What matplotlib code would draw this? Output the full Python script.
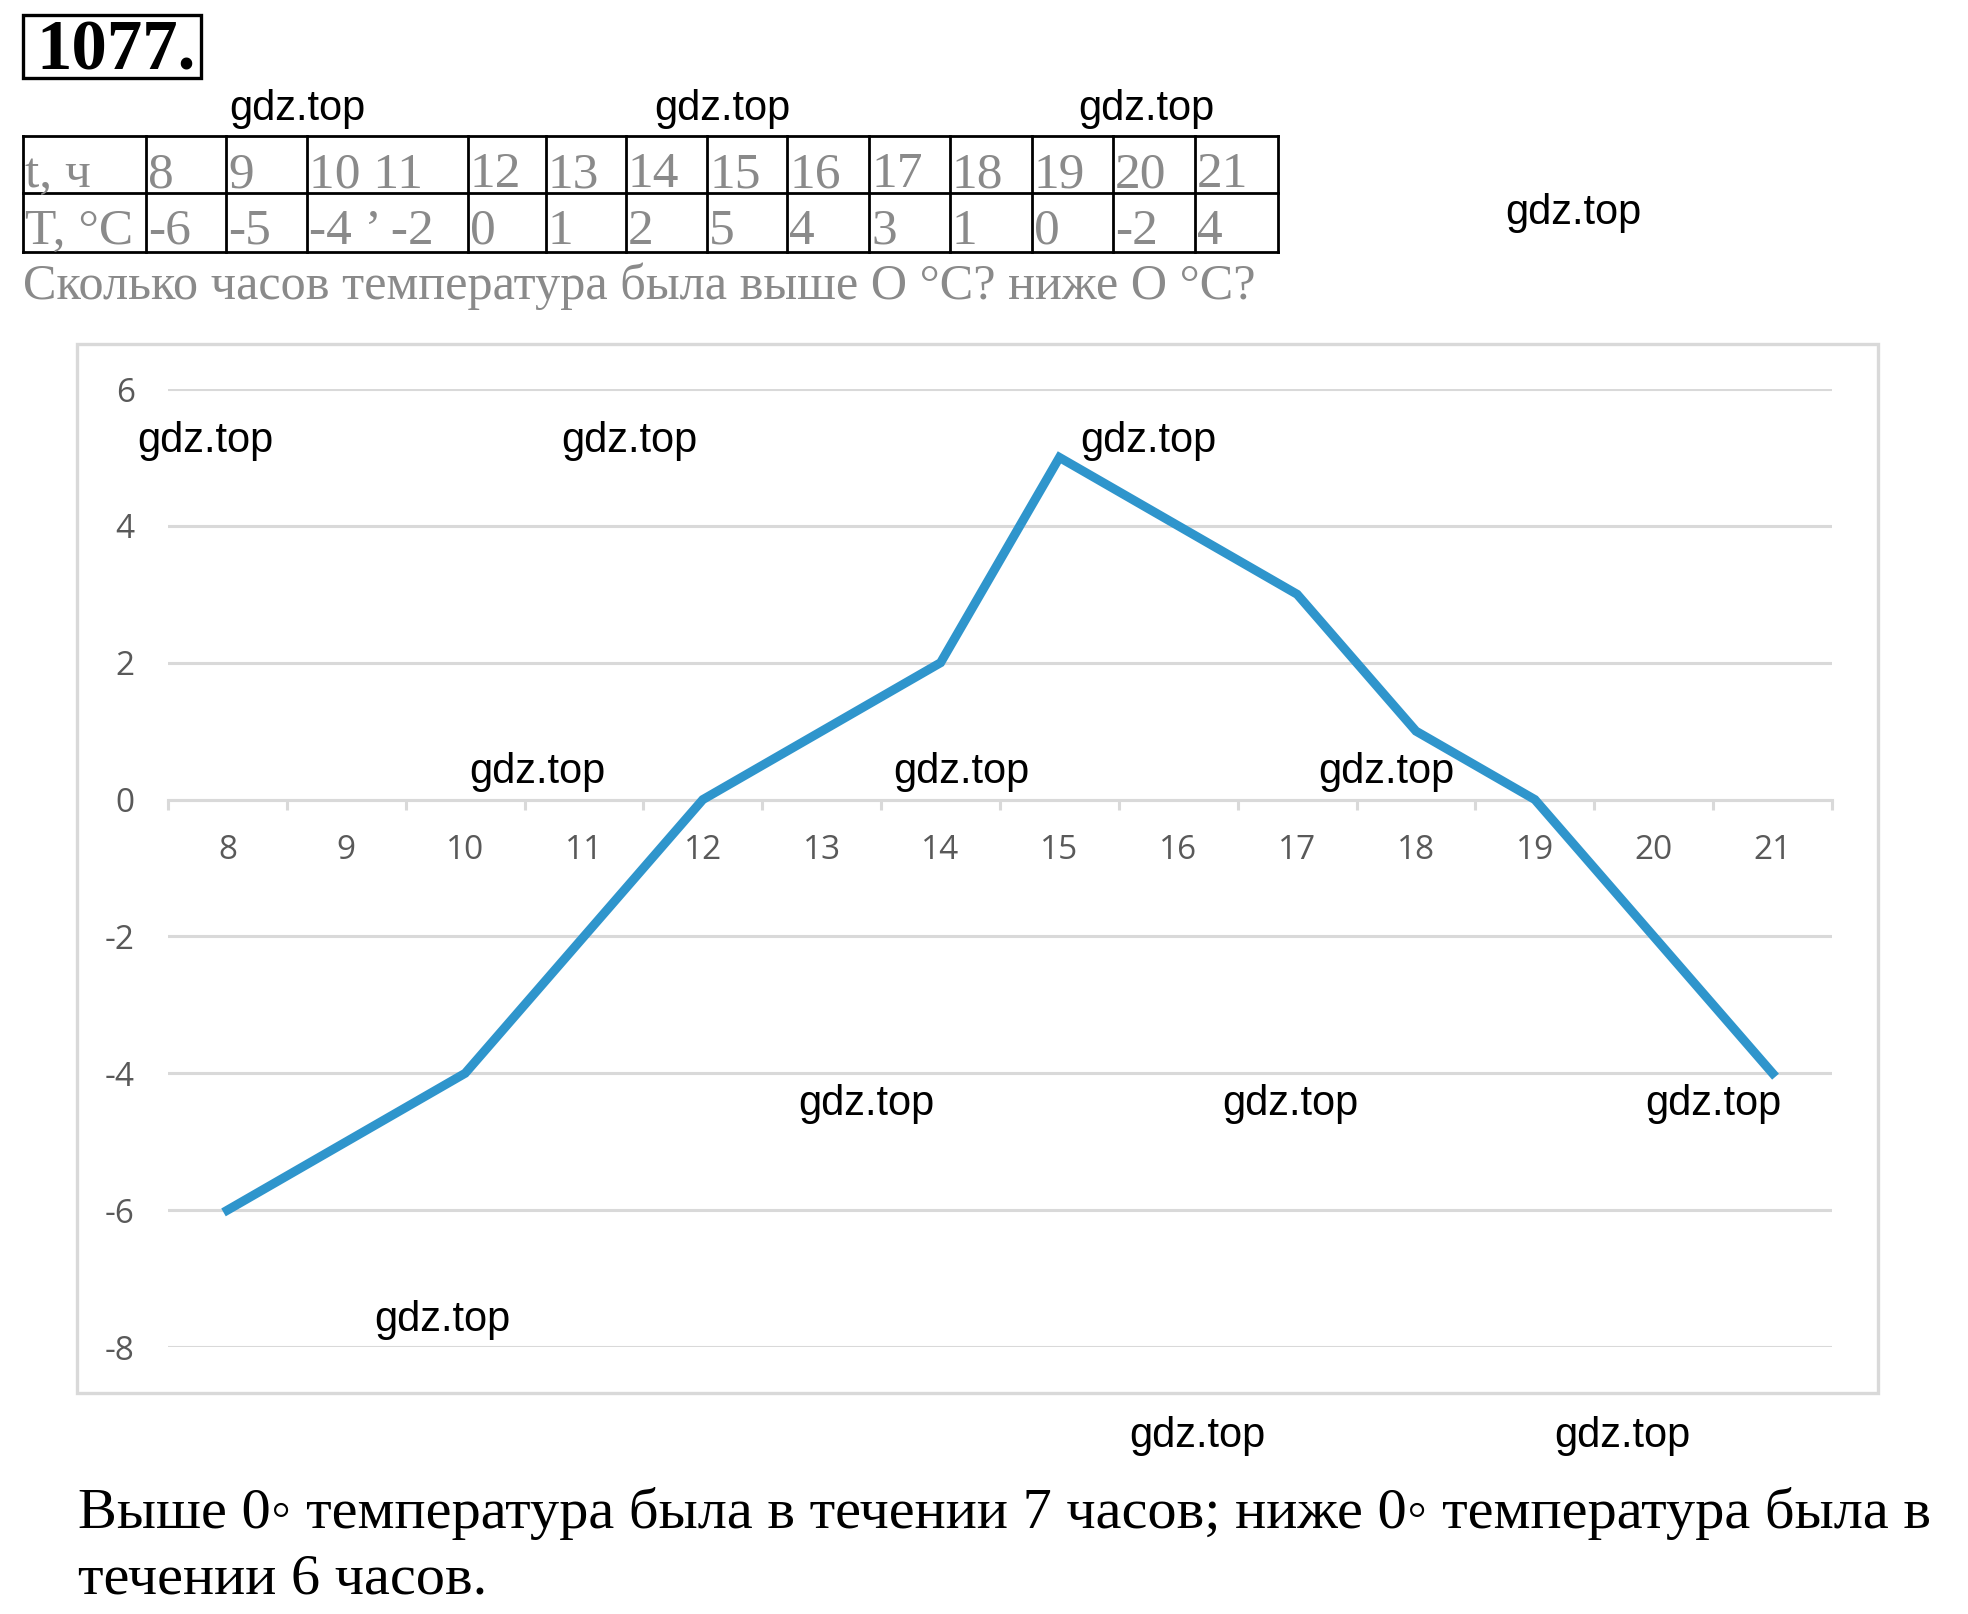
import matplotlib
matplotlib.use("Agg")
import matplotlib.pyplot as plt
from matplotlib.patches import Rectangle

# data
hours = [8, 9, 10, 11, 12, 13, 14, 15, 16, 17, 18, 19, 20, 21]
temps = [-6, -5, -4, -2, 0, 1, 2, 5, 4, 3, 1, 0, -2, -4]
y_ticks = [-8, -6, -4, -2, 0, 2, 4, 6]

# table as printed in the task (including the scan glitches)
row_hours = ["t, ч", "8", "9", "10 11", "12", "13", "14", "15", "16", "17", "18", "19", "20", "21"]
row_temps = ["T, °C", "-6", "-5", "-4 ’ -2", "0", "1", "2", "5", "4", "3", "1", "0", "-2", "4"]
col_edges = [23, 146, 226, 307, 468, 546, 626, 707, 787, 869, 950, 1032, 1113, 1195, 1278]

question = "Сколько часов температура была выше О °С? ниже О °С?"
answer1 = "Выше 0◦ температура была в течении 7 часов; ниже 0◦ температура была в"
answer2 = "течении 6 часов."

watermarks = [(297, 109), (722, 109), (1146, 109), (1573, 213),
              (205, 441), (629, 441), (1148, 441),
              (537, 772), (961, 772), (1386, 772),
              (866, 1104), (1290, 1104), (1713, 1104),
              (442, 1320), (1197, 1436), (1622, 1436)]

W, H = 1968, 1614
fig = plt.figure(figsize=(W / 100, H / 100), dpi=100)

serif = ["Liberation Serif", "DejaVu Serif"]
wm_font = ["Liberation Sans Narrow", "Liberation Sans"]
grey = "#8a8a8a"
grid_c = "#d9d9d9"
lab_c = "#595959"

# chart
ax = fig.add_axes([168 / W, 1 - 1347 / H, (1832 - 168) / W, (1347 - 389) / H], zorder=1)
x = list(range(len(hours)))
ax.plot(x, temps, color="#2f95cc", lw=6.5, solid_joinstyle="miter", clip_on=False, zorder=3)
ax.set_xlim(-0.5, len(hours) - 0.5)
ax.set_ylim(-8, 6)
ax.set_yticks(y_ticks)
ax.set_yticklabels([str(v) for v in y_ticks])
ax.grid(axis="y", color=grid_c, lw=2.2)
ax.set_axisbelow(True)
for s in ["top", "right", "left"]:
    ax.spines[s].set_visible(False)
ax.spines["bottom"].set_position(("data", 0))
ax.spines["bottom"].set_color(grid_c)
ax.spines["bottom"].set_linewidth(2.2)
ax.set_xticks(x)
ax.set_xticklabels([str(h) for h in hours])
ax.set_xticks([i - 0.5 for i in range(len(hours) + 1)], minor=True)
ax.tick_params(axis="x", which="major", length=0, pad=25, labelsize=24, labelcolor=lab_c)
ax.tick_params(axis="x", which="minor", length=7, width=2.2, color=grid_c)
ax.tick_params(axis="y", length=0, pad=24, labelsize=24, labelcolor=lab_c)
for lab in ax.get_xticklabels() + ax.get_yticklabels():
    lab.set_fontfamily(["Open Sans", "DejaVu Sans"])

# page layer for the text around the chart
page = fig.add_axes([0, 0, 1, 1], zorder=2)
page.set_xlim(0, W)
page.set_ylim(H, 0)
page.axis("off")
page.patch.set_alpha(0)

# chart frame
page.add_patch(Rectangle((77, 344), 1878 - 77, 1393 - 344, fill=False, ec=grid_c, lw=2.4))

# task number
page.add_patch(Rectangle((23, 15), 178, 63, fill=False, ec="black", lw=2.4))
page.text(36, 70, "1077.", fontsize=51, fontweight="bold", family=serif, va="baseline")

# table
for yy in [136, 193, 252]:
    page.plot([col_edges[0], col_edges[-1]], [yy, yy], color="black", lw=2)
for xx in col_edges:
    page.plot([xx, xx], [136, 252], color="black", lw=2)
for i in range(len(row_hours)):
    page.text(col_edges[i] + 2, 187, row_hours[i], fontsize=37, color=grey, family=serif, va="baseline")
    page.text(col_edges[i] + 2, 244, row_temps[i], fontsize=37, color=grey, family=serif, va="baseline")

page.text(23, 299, question, fontsize=36.2, color=grey, family=serif, va="baseline")

# answer
page.text(78, 1528, answer1, fontsize=42, color="black", family=serif + ["DejaVu Sans"], va="baseline")
page.text(78, 1594, answer2, fontsize=42, color="black", family=serif + ["DejaVu Sans"], va="baseline")

# watermarks
for wx, wy in watermarks:
    page.text(wx, wy, "gdz.top", fontsize=30, color="black", family=wm_font, ha="center", va="center")

fig.savefig("out.png", dpi=100)
